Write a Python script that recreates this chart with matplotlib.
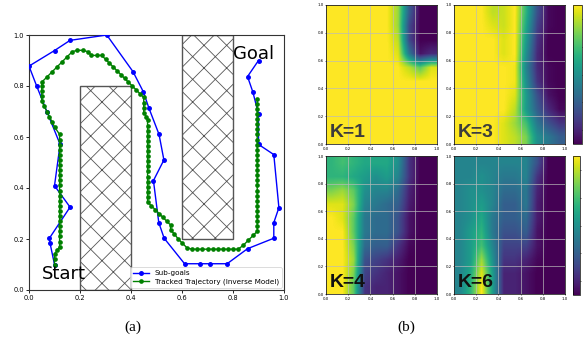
import numpy as np
import matplotlib
matplotlib.use("Agg")
import matplotlib.pyplot as plt
from matplotlib.patches import Rectangle

# ---------------- data: panel (a) ----------------
subgoal_x = [0.10, 0.082, 0.08, 0.161, 0.10, 0.122, 0.07, 0.03, 0.0, 0.10, 0.161, 0.305,
             0.408, 0.449, 0.47, 0.51, 0.529, 0.488, 0.509, 0.53, 0.61, 0.67, 0.71, 0.777,
             0.857, 0.96, 0.96, 0.98, 0.96, 0.90, 0.90, 0.878, 0.857, 0.90]
subgoal_y = [0.10, 0.186, 0.203, 0.325, 0.409, 0.571, 0.70, 0.80, 0.878, 0.939, 0.979, 1.0,
             0.856, 0.776, 0.714, 0.61, 0.51, 0.429, 0.264, 0.203, 0.103, 0.103, 0.103, 0.103,
             0.162, 0.203, 0.264, 0.323, 0.531, 0.571, 0.69, 0.776, 0.837, 0.90]

track_x = ([0.10, 0.10, 0.10, 0.11, 0.12]
           + [0.12] * 22
           + [0.10, 0.09, 0.08, 0.07, 0.06, 0.05, 0.05, 0.05, 0.05, 0.05, 0.07, 0.09, 0.11,
              0.13, 0.15, 0.17, 0.19, 0.21, 0.23, 0.245, 0.265, 0.285, 0.30, 0.315, 0.33,
              0.345, 0.36, 0.375, 0.39, 0.405, 0.42, 0.435, 0.45, 0.45, 0.45, 0.45, 0.46, 0.465]
           + [0.465] * 16
           + [0.48, 0.495, 0.51, 0.525, 0.54, 0.555, 0.555, 0.57, 0.585, 0.60, 0.62]
           + [0.64, 0.66, 0.68, 0.70, 0.72, 0.74, 0.76, 0.78, 0.80, 0.82]
           + [0.84, 0.86, 0.88, 0.895]
           + [0.895] * 26)
track_y = ([0.10, 0.12, 0.14, 0.155, 0.17]
           + [0.19, 0.21, 0.23, 0.25, 0.27, 0.29, 0.31, 0.33, 0.35, 0.37, 0.39, 0.41, 0.43,
              0.45, 0.47, 0.49, 0.51, 0.53, 0.55, 0.57, 0.59, 0.61]
           + [0.64, 0.66, 0.68, 0.70, 0.72, 0.74, 0.76, 0.78, 0.80, 0.815, 0.835, 0.855, 0.875,
              0.895, 0.915, 0.935, 0.94, 0.94, 0.935, 0.92, 0.92, 0.92, 0.905, 0.89, 0.875,
              0.86, 0.845, 0.83, 0.815, 0.80, 0.785, 0.77, 0.755, 0.735, 0.715, 0.695, 0.68, 0.665]
           + [0.645, 0.625, 0.605, 0.585, 0.565, 0.545, 0.525, 0.505, 0.485, 0.465, 0.445,
              0.425, 0.405, 0.385, 0.365, 0.345]
           + [0.33, 0.315, 0.30, 0.285, 0.27, 0.255, 0.235, 0.22, 0.20, 0.185, 0.165]
           + [0.16] * 10
           + [0.175, 0.195, 0.215, 0.23]
           + [0.25, 0.27, 0.29, 0.31, 0.33, 0.35, 0.37, 0.39, 0.41, 0.43, 0.45, 0.47, 0.49,
              0.51, 0.53, 0.55, 0.57, 0.59, 0.61, 0.63, 0.65, 0.67, 0.69, 0.71, 0.73, 0.75])

# obstacles: (x, y, width, height)
obstacles = [(0.2, 0.0, 0.2, 0.8), (0.6, 0.2, 0.2, 0.8)]
ticks_a = [0.0, 0.2, 0.4, 0.6, 0.8, 1.0]

# ---------------- data: panel (b) heatmaps (rows top->bottom, cols left->right) ----------------
k_labels = ["K=1", "K=3", "K=4", "K=6"]
heat_k1 = [
    [1, 1, 1, 1, 1, 1, 0.85, 0.30, 0.0, 0.0],
    [1, 1, 1, 1, 1, 1, 0.85, 0.22, 0.0, 0.0],
    [1, 1, 1, 1, 1, 1, 0.90, 0.22, 0.0, 0.0],
    [1, 1, 1, 1, 1, 1, 0.95, 0.40, 0.05, 0.12],
    [1, 1, 1, 1, 1, 1, 1, 0.90, 0.75, 0.95],
    [1, 1, 1, 1, 1, 1, 1, 1, 1, 1],
    [1, 1, 1, 1, 1, 1, 1, 1, 1, 1],
    [1, 1, 1, 1, 1, 1, 1, 1, 1, 1],
    [1, 1, 1, 1, 1, 1, 1, 1, 1, 1],
    [1, 1, 1, 1, 1, 1, 1, 1, 1, 1],
]
heat_k3 = [
    [1, 1, 1, 0.90, 0.92, 1, 0.65, 0.25, 0.02, 0.0],
    [1, 1, 1, 0.95, 0.92, 1, 0.60, 0.20, 0.02, 0.0],
    [1, 1, 1, 1, 0.95, 1, 0.55, 0.15, 0.0, 0.0],
    [1, 1, 1, 1, 0.95, 1, 0.50, 0.12, 0.0, 0.0],
    [1, 1, 1, 1, 1, 0.98, 0.45, 0.12, 0.02, 0.0],
    [1, 1, 1, 1, 1, 0.98, 0.50, 0.15, 0.02, 0.0],
    [1, 1, 1, 1, 1, 0.95, 0.55, 0.25, 0.05, 0.0],
    [1, 1, 1, 1, 1, 0.90, 0.55, 0.30, 0.12, 0.02],
    [1, 1, 1, 1, 0.95, 0.85, 0.70, 0.40, 0.25, 0.15],
    [1, 1, 1, 1, 0.95, 0.90, 0.80, 0.50, 0.40, 0.30],
]
heat_k4 = [
    [0.65, 0.70, 0.65, 0.60, 0.60, 0.60, 0.50, 0.15, 0.0, 0.0],
    [0.65, 0.65, 0.60, 0.55, 0.50, 0.55, 0.45, 0.15, 0.0, 0.0],
    [0.80, 0.85, 0.75, 0.50, 0.45, 0.45, 0.35, 0.10, 0.0, 0.0],
    [0.95, 0.95, 0.80, 0.45, 0.40, 0.35, 0.30, 0.08, 0.0, 0.0],
    [1.00, 0.95, 0.75, 0.40, 0.35, 0.35, 0.25, 0.05, 0.0, 0.0],
    [1.00, 1.00, 0.75, 0.40, 0.35, 0.35, 0.25, 0.05, 0.0, 0.0],
    [1.00, 1.00, 0.80, 0.35, 0.30, 0.30, 0.15, 0.02, 0.0, 0.0],
    [1.00, 1.00, 0.85, 0.25, 0.20, 0.15, 0.08, 0.0, 0.0, 0.0],
    [1.00, 1.00, 0.80, 0.20, 0.15, 0.10, 0.05, 0.0, 0.0, 0.0],
    [1.00, 1.00, 0.75, 0.15, 0.10, 0.10, 0.05, 0.0, 0.0, 0.0],
]
heat_k6 = [
    [0.45, 0.45, 0.45, 0.45, 0.45, 0.45, 0.45, 0.25, 0.0, 0.0],
    [0.45, 0.45, 0.50, 0.45, 0.40, 0.40, 0.45, 0.15, 0.0, 0.0],
    [0.45, 0.50, 0.50, 0.45, 0.35, 0.35, 0.40, 0.10, 0.0, 0.0],
    [0.45, 0.50, 0.55, 0.45, 0.30, 0.30, 0.40, 0.08, 0.0, 0.0],
    [0.45, 0.50, 0.60, 0.40, 0.30, 0.30, 0.35, 0.08, 0.0, 0.0],
    [0.45, 0.55, 0.65, 0.40, 0.25, 0.25, 0.30, 0.05, 0.0, 0.0],
    [0.45, 0.55, 0.70, 0.45, 0.20, 0.20, 0.20, 0.05, 0.0, 0.0],
    [0.45, 0.55, 0.85, 0.50, 0.15, 0.15, 0.10, 0.02, 0.0, 0.0],
    [0.45, 0.60, 0.95, 0.55, 0.10, 0.10, 0.05, 0.0, 0.0, 0.0],
    [0.45, 0.65, 1.00, 0.55, 0.10, 0.10, 0.05, 0.0, 0.0, 0.0],
]
heatmaps = [heat_k1, heat_k3, heat_k4, heat_k6]
ticks_b = [0.0, 0.2, 0.4, 0.6, 0.8, 1.0]

# ---------------- figure ----------------
W, H = 583, 342
DPI = 136
S = 100.0 / DPI   # scale point-based sizes so the look matches a 100-dpi layout
plt.rcParams['hatch.linewidth'] = 0.6 * S
plt.rcParams['axes.linewidth'] = 0.8 * S
plt.rcParams['patch.linewidth'] = 0.8 * S
fig = plt.figure(figsize=(W / DPI, H / DPI), dpi=DPI)

def fa(x0, y0, x1, y1):
    return [x0 / W, 1 - y1 / H, (x1 - x0) / W, (y1 - y0) / H]

# panel (a)
ax = fig.add_axes(fa(29, 35, 284, 290))
for (ox, oy, ow, oh) in obstacles:
    ax.add_patch(Rectangle((ox, oy), ow, oh, facecolor='white', edgecolor='#555555',
                           hatch='xx', linewidth=1.0 * S, zorder=1))
ax.plot(subgoal_x, subgoal_y, '-o', color='blue', lw=1.0 * S, ms=2.2 * S,
        label='Sub-goals', zorder=3)
ax.plot(track_x, track_y, '-o', color='green', lw=1.0 * S, ms=2.0 * S,
        label='Tracked Trajectory (Inverse Model)', zorder=4)
ax.text(0.05, 0.045, 'Start', fontsize=13 * S, zorder=5)
ax.text(0.80, 0.905, 'Goal', fontsize=13 * S, zorder=5)
ax.set_xlim(0, 1)
ax.set_ylim(0, 1)
ax.set_xticks(ticks_a)
ax.set_yticks(ticks_a)
ax.tick_params(labelsize=4.8 * S, length=2 * S, width=0.6 * S, pad=1.5 * S)
for s in ax.spines.values():
    s.set_linewidth(0.8 * S)
    s.set_color('#333333')
leg = ax.legend(loc='lower right', fontsize=5.2 * S, borderaxespad=0.3, handlelength=2.2,
                framealpha=0.8, borderpad=0.4, labelspacing=0.3)
leg.get_frame().set_linewidth(0.6 * S)

# panel (b)
boxes = [(326, 5, 437, 144), (454, 5, 565, 144), (326, 156, 437, 294), (454, 156, 565, 294)]
label_colors = ['#3c3c3c', '#3c3c3c', '#111111', '#111111']
im = None
for grid, lab, box, lc in zip(heatmaps, k_labels, boxes, label_colors):
    hx = fig.add_axes(fa(*box))
    im = hx.imshow(np.array(grid), cmap='viridis', vmin=0, vmax=1, extent=[0, 1, 0, 1],
                   origin='upper', interpolation='bilinear', aspect='auto')
    hx.set_xticks(ticks_b)
    hx.set_yticks(ticks_b)
    hx.grid(True, color='#bbbbbb', lw=0.6 * S, alpha=0.8)
    hx.tick_params(labelsize=2.8 * S, length=1 * S, width=0.4 * S, pad=0.8 * S)
    for s in hx.spines.values():
        s.set_linewidth(0.5 * S)
    hx.text(0.03, 0.05, lab, fontsize=14 * S, fontweight='bold', family='Liberation Sans',
            color=lc, transform=hx.transAxes)

for cb_box in [(573, 5, 582, 144), (573, 156, 580, 295)]:
    cax = fig.add_axes(fa(*cb_box))
    cb = fig.colorbar(im, cax=cax)
    cb.set_ticks([0.1, 0.3, 0.5, 0.7, 0.9])
    cax.tick_params(labelsize=2.8 * S, length=1 * S, width=0.4 * S, pad=0.8 * S)
    cb.outline.set_linewidth(0.5 * S)

fig.text(133 / W, 1 - 327 / H, '(a)', fontsize=11 * S, family='Liberation Serif',
         ha='center', va='center')
fig.text(406 / W, 1 - 327 / H, '(b)', fontsize=11 * S, family='Liberation Serif',
         ha='center', va='center')

fig.savefig('out.png', dpi=DPI)
